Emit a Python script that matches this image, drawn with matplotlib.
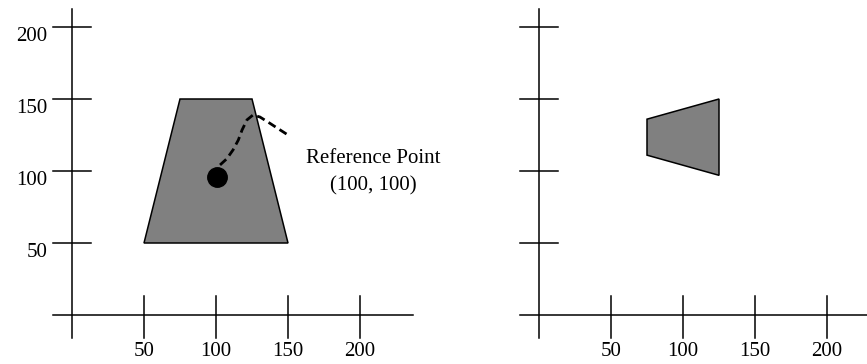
import matplotlib
matplotlib.use('Agg')
import matplotlib.pyplot as plt

plt.rcParams['font.family'] = ['Liberation Serif', 'DejaVu Serif']

# data
x_ticks = [50, 100, 150, 200]
y_ticks = [50, 100, 150, 200]
x_labels = ['50', '100', '150', '200']
y_labels = ['50', '100', '150', '200']

trap_x = [50, 150, 125, 75]
trap_y = [50, 50, 150, 150]

moved_x = [75, 125, 125, 75]
moved_y = [136, 150, 97, 111]

ref_x = [100.7]
ref_y = [95.5]

curve_x = [102.8, 107.5, 111.8, 115.5, 118.1, 121.5, 125.7, 130.5, 136.1, 143, 150]
curve_y = [104.2, 108.5, 114.6, 121.5, 128.5, 135.5, 138.9, 137.5, 134.0, 129.5, 125]

W, H = 867, 364
scale = 1.44  # px per unit
fig = plt.figure(figsize=(W / 100, H / 100), dpi=100)


def make_axes(px0, px1, ox, oy):
    # ox, oy = pixel position of the origin (oy from top)
    ax = fig.add_axes([px0 / W, 0, (px1 - px0) / W, 1])
    ax.set_xlim((px0 - ox) / scale, (px1 - ox) / scale)
    ax.set_ylim(-(H - oy) / scale, oy / scale)
    ax.axis('off')
    return ax


def draw_frame(ax, xmax):
    lw = 1.1
    ax.plot([-13, xmax], [0, 0], color='black', lw=lw, clip_on=False)
    ax.plot([0, 0], [-16, 212.5], color='black', lw=lw, clip_on=False)
    for t in x_ticks:
        ax.plot([t, t], [-16, 13], color='black', lw=lw, clip_on=False)
    for t in y_ticks:
        ax.plot([-13, 13], [t, t], color='black', lw=lw, clip_on=False)
    for t, lab in zip(x_ticks, x_labels):
        ax.text(t, -25.5, lab, ha='center', va='center', fontsize=15)


ax1 = make_axes(0, 460, 72, 315)
ax2 = make_axes(460, 867, 539, 315)

draw_frame(ax1, 237)
draw_frame(ax2, 240)

for t, lab in zip(y_ticks, y_labels):
    ax1.text(-17, t - 6.5, lab, ha='right', va='center', fontsize=15)

ax1.fill(trap_x, trap_y, facecolor='#808080', edgecolor='black', lw=1.1)
ax2.fill(moved_x, moved_y, facecolor='#808080', edgecolor='black', lw=1.1)

ax1.plot(curve_x, curve_y, color='black', lw=2, linestyle=(0, (3, 1.7)))
ax1.plot(ref_x, ref_y, 'o', color='black', markersize=14)

ax1.text(209, 99, 'Reference Point\n(100, 100)', ha='center', va='center',
         fontsize=15, linespacing=1.55)

fig.savefig('out.png', dpi=100)
